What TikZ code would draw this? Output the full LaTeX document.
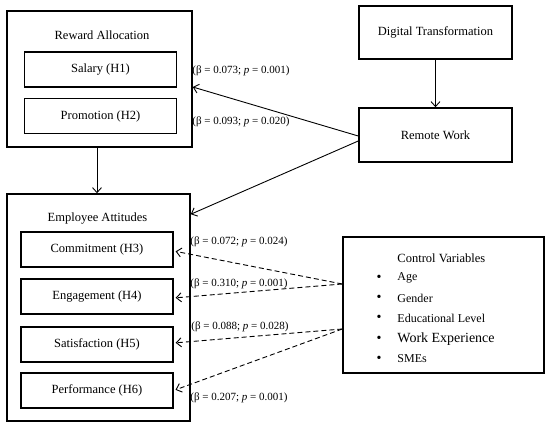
\documentclass[tikz,border=0pt]{standalone}
\usepackage{fontspec}
\setmainfont{Liberation Serif}
\usetikzlibrary{arrows.meta, positioning, calc}
\tikzset{
  every picture/.style={line width=0.9pt},
  box/.style={draw=black, line width=#1, align=center, inner sep=0pt},
  box/.default=1.5pt,
  item/.style={box=1.3pt, minimum width=152pt, minimum height=35pt, font=\fontsize{12.5}{14}\selectfont},
  arrow/.style={-{Straight Barb[length=5pt, width=9pt]}, line width=0.9pt},
  dasharrow/.style={arrow, dashed, dash pattern=on 5pt off 3pt},
  coef/.style={font=\fontsize{11}{13}\selectfont, anchor=west, inner sep=0pt},
  head/.style={font=\fontsize{12.5}{14}\selectfont, inner sep=0pt},
}
\begin{document}
\begin{tikzpicture}[x=1pt, y=-1pt]
  \useasboundingbox (0,0) rectangle (550,427);
  % reward allocation with its two parts
  \node[box, minimum width=185pt, minimum height=136pt] (reward) at (99.5,79) {};
  \node[head] at (102,35) {Reward Allocation};
  \node[item] (salary) at (100.5,69.5) {Salary (H1)};
  \node[item] (promo) at (100.5,116) {Promotion (H2)};
  % digital transformation and remote work
  \node[box, minimum width=153pt, minimum height=53pt, font=\fontsize{12.5}{14}\selectfont] (digital) at (435.5,32.5) {Digital Transformation};
  \node[box, minimum width=153pt, minimum height=54pt, font=\fontsize{12.5}{14}\selectfont] (remote) at (435.5,135) {Remote Work};
  % employee attitudes with its four parts
  \node[box, minimum width=183pt, minimum height=227pt] (attitudes) at (98.5,307.5) {};
  \node[head] at (97.5,219) {Employee Attitudes};
  \node[item] (commit) at (97,249.5) {Commitment (H3)};
  \node[item] (engage) at (97,296.5) {Engagement (H4)};
  \node[item] (satis) at (97,344.5) {Satisfaction (H5)};
  \node[item] (perf) at (97,390.5) {Performance (H6)};
  % control variables
  \node[box, minimum width=201pt, minimum height=136pt] (control) at (443.5,305) {};
  \node[head, anchor=west] (cvtitle) at (397,258) {Control Variables};
  \foreach \y/\txt/\sz [count=\i] in {278/Age/12, 298/Gender/12, 318/Educational Level/12, 339/Work Experience/14, 359/SMEs/12}{
    \node[inner sep=0pt] (bul\i) at (379,\y) {\fontsize{14}{14}\selectfont\textbullet};
    \node[inner sep=0pt, anchor=west, font=\fontsize{\sz}{14}\selectfont] (cv\i) at (397,\y) {\txt};
  }
  \coordinate (cvtop) at ([yshift=21pt]control.west);
  \coordinate (cvbot) at ([yshift=-24pt]control.west);
  % paths
  \draw[arrow] (reward.south -| 97,0) -- (attitudes.north -| 97,0);
  \draw[arrow] (digital) -- (remote);
  \draw[arrow] ([yshift=-1pt]remote.west) -- ([yshift=-8pt]reward.east);
  \draw[arrow] ([yshift=-6pt]remote.west) -- ([yshift=-21pt]attitudes.north east);
  \draw[dasharrow, shorten >=2pt] (cvtop) -- ([yshift=-1.5pt]commit.east);
  \draw[dasharrow, shorten >=2pt] (cvtop) -- ([yshift=-1.5pt]engage.east);
  \draw[dasharrow, shorten >=2pt] (cvbot) -- ([yshift=1.5pt]satis.east);
  \draw[dasharrow, shorten >=2pt] (cvbot) -- (perf.east);
  % coefficients
  \node[coef] (c1) at (192,71) {(β = 0.073; \textit{p} = 0.001)};
  \node[coef] (c2) at (192,122) {(β = 0.093; \textit{p} = 0.020)};
  \node[coef] (c3) at (190,242) {(β = 0.072; \textit{p} = 0.024)};
  \node[coef] (c4) at (190,284) {(β = 0.310; \textit{p} = 0.001)};
  \node[coef] (c5) at (191,327) {(β = 0.088; \textit{p} = 0.028)};
  \node[coef] (c6) at (190,398) {(β = 0.207; \textit{p} = 0.001)};
\end{tikzpicture}
\end{document}
